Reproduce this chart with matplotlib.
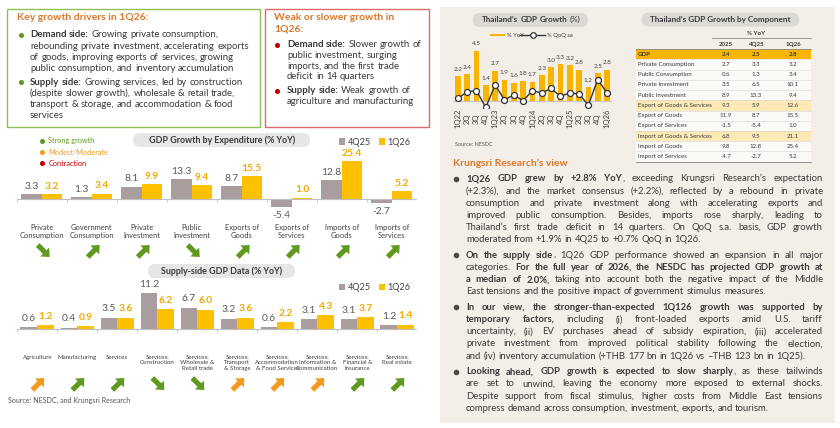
import matplotlib
matplotlib.use('Agg')
import matplotlib.pyplot as plt
from matplotlib.patches import Rectangle, FancyBboxPatch, FancyArrow
from matplotlib.lines import Line2D
import numpy as np

plt.rcParams['font.family'] = ['Lato', 'DejaVu Sans']

W, H = 840, 428

# ---------------- data ----------------
exp_cats = ['Private\nConsumption', 'Government\nConsumption', 'Private\nInvestment', 'Public\nInvestment',
            'Exports of\nGoods', 'Exports of\nServices', 'Imports of\nGoods', 'Imports of\nServices']
exp_4q25 = [3.3, 1.3, 8.1, 13.3, 8.7, -5.4, 12.8, -2.7]
exp_1q26 = [3.2, 3.4, 9.9, 9.4, 15.5, 1.0, 25.4, 5.2]
exp_trend = ['down', 'up', 'up', 'down', 'up', 'up', 'up', 'up']
exp_signal = ['strong', 'strong', 'strong', 'strong', 'strong', 'strong', 'strong', 'strong']

sup_cats = ['Agriculture', 'Manufacturing', 'Services', 'Services:\nConstruction',
            'Services:\nWholesale &\nRetail trade', 'Services:\nTransport\n& Storage',
            'Services:\nAccommodation\n& Food Services', 'Services:\nInformation &\nCommunication',
            'Services:\nFinancial &\nInsurance', 'Services:\nReal estate']
sup_4q25 = [0.6, 0.4, 3.5, 11.2, 6.7, 3.2, 0.6, 3.1, 3.1, 1.2]
sup_1q26 = [1.2, 0.9, 3.6, 6.2, 6.0, 3.6, 2.2, 4.3, 3.7, 1.4]
sup_trend = ['up', 'up', 'up', 'down', 'down', 'up', 'up', 'up', 'up', 'up']
sup_signal = ['moderate', 'strong', 'strong', 'strong', 'strong', 'moderate', 'moderate', 'moderate', 'strong', 'strong']

qtr_labels = ['1Q22', '2Q', '3Q', '4Q', '1Q23', '2Q', '3Q', '4Q', '1Q24', '2Q', '3Q', '4Q',
              '1Q25', '2Q', '3Q', '4Q', '1Q26']
gdp_yoy = [2.2, 2.4, 4.5, 1.4, 2.7, 1.9, 1.6, 1.8, 1.7, 2.3, 3.0, 3.3, 3.2, 2.8, 1.2, 2.5, 2.8]
gdp_qoq = [0.2, 0.8, 0.9, -0.6, 1.4, 0.1, 0.5, 0.0, 0.9, 0.7, 1.1, 0.4, 0.7, 0.6, -0.4, 1.9, 0.7]

comp_names = ['GDP', 'Private Consumption', 'Public Consumption', 'Private Investment', 'Public Investment',
              'Export of Goods & Services', 'Export of Goods', 'Export of Services',
              'Import of Goods & Services', 'Import of Goods', 'Import of Services']
comp_2025 = [2.4, 2.7, 0.6, 3.5, 8.9, 9.3, 11.9, -1.5, 6.8, 9.8, -4.7]
comp_4q25 = [2.5, 3.3, 1.3, 6.5, 13.3, 5.9, 8.7, -5.4, 9.5, 12.8, -2.7]
comp_1q26 = [2.8, 3.2, 3.4, 10.1, 9.4, 12.6, 15.5, 1.0, 21.1, 25.4, 5.2]
comp_cols = ['2025', '4Q25', '1Q26']

drivers_up = [
    ["**Demand side:** Growing private consumption,",
     "rebounding private investment, accelerating exports",
     "of goods, improving exports of services, growing",
     "public consumption, and inventory accumulation"],
    ["**Supply side:** Growing services, led by construction",
     "(despite slower growth), wholesale & retail trade,",
     "transport & storage, and accommodation & food",
     "services"],
]
drivers_down = [
    ["**Demand side:** Slower growth of",
     "public investment, surging",
     "imports, and the first trade",
     "deficit in 14 quarters"],
    ["**Supply side:** Weak growth of",
     "agriculture and manufacturing"],
]
view_text = [
    ["**1Q26 GDP grew by +2.8% YoY**, exceeding Krungsri Research\u2019s expectation",
     "(+2.3%), and the market consensus (+2.2%), reflected by a rebound in private",
     "consumption and private investment along with accelerating exports and",
     "improved public consumption. Besides, imports rose sharply, leading to",
     "Thailand\u2019s first trade deficit in 14 quarters. On QoQ s.a. basis, GDP growth",
     "moderated from +1.9% in 4Q25 to +0.7% QoQ in 1Q26."],
    ["**On the supply side**, 1Q26 GDP performance showed an expansion in all major",
     "categories. **For the full year of 2026, the NESDC has projected GDP growth at**",
     "**a median of 2.0%,** taking into account both the negative impact of the Middle",
     "East tensions and the positive impact of government stimulus measures."],
    ["**In our view, the stronger-than-expected 1Q126 growth was supported by**",
     "**temporary factors,** including (i) front-loaded exports amid U.S. tariff",
     "uncertainty, (ii) EV purchases ahead of subsidy expiration, (iii) accelerated",
     "private investment from improved political stability following the election,",
     "and (iv) inventory accumulation (+THB 177 bn in 1Q26 vs \u2013THB 123 bn in 1Q25)."],
    ["**Looking ahead, GDP growth is expected to slow sharply**, as these tailwinds",
     "are set to unwind, leaving the economy more exposed to external shocks.",
     "Despite support from fiscal stimulus, higher costs from Middle East tensions",
     "compress demand across consumption, investment, exports, and tourism."],
]

# ---------------- colours ----------------
c_grey = '#a99d9e'
c_yel = '#ffc000'
c_yel_txt = '#f2a900'
c_dark = '#3a3a3a'
c_orange_title = '#d9782d'
c_green = '#5f9a1f'
c_amber = '#f39a1e'
c_red = '#c00000'
c_beige = '#f3efe8'
sig_col = {'strong': c_green, 'moderate': c_amber}

fig = plt.figure(figsize=(W / 100, H / 100), dpi=100)
fig.patch.set_facecolor('white')
bg = fig.add_axes([0, 0, 1, 1])
bg.set_xlim(0, W)
bg.set_ylim(H, 0)
bg.axis('off')
renderer = fig.canvas.get_renderer()


def rect_px(x0, y0, x1, y1):
    return [x0 / W, 1 - y1 / H, (x1 - x0) / W, (y1 - y0) / H]


def text_w(s, size, bold):
    t = bg.text(0, 0, s, fontsize=size, fontweight='bold' if bold else 'normal')
    w = t.get_window_extent(renderer).width
    t.remove()
    return w


def rich_line(x, y, s, size, color=c_dark, width=None, ha='left'):
    # y is the visual middle of the line; words may carry **bold** marks
    bold = False
    toks = []
    for w in s.split(' '):
        pcs = []
        for i, p in enumerate(w.split('**')):
            if i > 0:
                bold = not bold
            if p:
                pcs.append((p, bold))
        if pcs:
            toks.append(pcs)
    sp = text_w('a a', size, False) - text_w('aa', size, False)
    widths = [[text_w(p, size, b) for p, b in pcs] for pcs in toks]
    total = sum(sum(w) for w in widths)
    gap = sp
    if width is not None and len(toks) > 1:
        gap = max((width - total) / (len(toks) - 1), sp * 0.6)
    if ha == 'center':
        x = x - (total + gap * (len(toks) - 1)) / 2
    yb = y + 0.26 * size * 100 / 72
    cx = x
    for pcs, ws in zip(toks, widths):
        for (p, b), w in zip(pcs, ws):
            bg.text(cx, yb, p, fontsize=size, fontweight='bold' if b else 'normal',
                    color=color, va='baseline', ha='left')
            cx += w
        cx += gap


def pill(x0, y0, x1, y1, color):
    bg.add_patch(FancyBboxPatch((x0, y0), x1 - x0, y1 - y0,
                                boxstyle='round,pad=0,rounding_size=%f' % ((y1 - y0) / 2),
                                fc=color, ec='none', zorder=1))


def arrow(cx, cy, trend, color):
    dy = -12 if trend == 'up' else 12
    a = FancyArrow(cx - 6, cy - dy / 2, 12, dy, width=5.2, head_width=12.5, head_length=7,
                   length_includes_head=True, fc=color, ec='none', zorder=3)
    bg.add_patch(a)


# ---------------- top-left boxes ----------------
bg.add_patch(Rectangle((7, 9), 253, 118, fc='white', ec='#8fbf55', lw=1.0))
bg.add_patch(Rectangle((265, 9), 164, 118, fc='white', ec='#de6a6a', lw=1.0))

bg.text(17, 17.5, 'Key growth drivers in 1Q26:', fontsize=7.5, fontweight='bold',
        color=c_orange_title, va='center')
y = 35
for blk in drivers_up:
    bg.plot(20.5, y, 'o', ms=2.6, color=c_green)
    for ln in blk:
        rich_line(30, y, ln, 6.9)
        y += 11.3
    y += 1.9

bg.text(274, 17, 'Weak or slower growth in', fontsize=7.5, fontweight='bold', color=c_orange_title, va='center')
bg.text(274, 29, '1Q26:', fontsize=7.5, fontweight='bold', color=c_orange_title, va='center')
y = 45
for blk in drivers_down:
    bg.plot(277, y, 'o', ms=2.6, color=c_red)
    for ln in blk:
        rich_line(287, y, ln, 6.9)
        y += 10.6
    y += 3.4

# ---------------- right beige panel ----------------
bg.add_patch(Rectangle((440, 7), 395, 416, fc=c_beige, ec='none', zorder=0))

# GDP growth chart
pill(473, 13, 588, 27, '#dcd8d4')
rich_line(531, 20, "**Thailand\u2019s GDP Growth** (%)", 5.9, ha='center')

bg.add_patch(Rectangle((490, 33.6), 15, 2.8, fc='#f7b500', ec='none'))
bg.text(507, 35, '% YoY', fontsize=4.2, color=c_dark, va='center')
bg.add_line(Line2D([520, 545], [35, 35], color='#333333', lw=1.0))
bg.plot(532.5, 35, 'o', ms=4, mfc='white', mec='#333333', mew=0.9)
bg.text(547, 35, '% QoQ sa', fontsize=4.2, color=c_dark, va='center')

ax3 = fig.add_axes(rect_px(453.1, 40, 611.7, 108))
ax3.patch.set_alpha(0)
xq = np.arange(len(qtr_labels))
ax3.bar(xq, gdp_yoy, width=0.6, color='#f7b500', zorder=1)
ax3.axhline(0, color='#c8c4bf', lw=0.8, zorder=0)
ax3.plot(xq, gdp_qoq, color='#333333', lw=1.0, marker='o', ms=4.3, mfc='white', mec='#333333',
         mew=0.9, zorder=3)
for i, v in enumerate(gdp_yoy):
    ax3.annotate('%.1f' % v, (i, v), xytext=(0, 5), textcoords='offset points', ha='center',
                 va='center', fontsize=4.6, color='#404040')
ax3.set_xlim(-0.5, len(qtr_labels) - 0.5)
ax3.set_ylim(-(108 - 100.7) / 11.1, (100.7 - 40) / 11.1)
ax3.set_xticks(xq)
ax3.set_xticklabels(qtr_labels, rotation=90, fontsize=5.5, color='#404040', va='center')
ax3.tick_params(axis='x', length=0, pad=7.6)
ax3.set_yticks([])
for s in ax3.spines.values():
    s.set_visible(False)
bg.text(455, 144, 'Source: NESDC', fontsize=4, color='#555555', va='center')

# component table
pill(641.7, 12.5, 799, 26.5, '#dcd8d4')
bg.text(720, 19.5, 'Thailand\u2019s GDP Growth by Component', fontsize=5.9, fontweight='bold',
        color=c_dark, ha='center', va='center')
col_x = [725.7, 755.7, 793]
bg.text(755.7, 33.3, '% YoY', fontsize=4.4, fontweight='bold', color=c_dark, ha='center', va='center')
bg.add_line(Line2D([712, 811], [38, 38], color='#8a8a8a', lw=0.6))
for cx, cname in zip(col_x, comp_cols):
    bg.text(cx, 44.3, cname, fontsize=4.4, fontweight='bold', color=c_dark, ha='center', va='center')
bg.add_line(Line2D([636, 811], [49.2, 49.2], color='#8a8a8a', lw=0.6))
row_h = 10.22
bg.add_patch(Rectangle((636, 49.2), 175, row_h * len(comp_names), fc='#fbfaf7', ec='none'))
for k, name in enumerate(comp_names):
    yc = 54.3 + row_h * k
    if k == 0:
        bg.add_patch(Rectangle((636, yc - row_h / 2), 175, row_h, fc='#f7b500', ec='none'))
    elif 'Goods & Services' in name:
        bg.add_patch(Rectangle((636, yc - row_h / 2), 175, row_h, fc='#fde9b5', ec='none'))
    fw = 'bold' if k == 0 else 'normal'
    bg.text(638, yc, name, fontsize=4.4, fontweight=fw, color=c_dark, va='center')
    for cx, vals in zip(col_x, [comp_2025, comp_4q25, comp_1q26]):
        bg.text(cx, yc, '%.1f' % vals[k], fontsize=4.4, fontweight=fw, color=c_dark, ha='center', va='center')
    bg.add_line(Line2D([636, 811], [yc + row_h / 2] * 2, color='#d6d3cf', lw=0.4))
bg.add_line(Line2D([636, 811], [54.3 + row_h * 10.5] * 2, color='#8a8a8a', lw=0.6))

# Krungsri view text
bg.text(453, 163, 'Krungsri Research\u2019s view', fontsize=7.4, fontweight='bold',
        color=c_orange_title, va='center')
y = 179
for blk in view_text:
    bg.plot(455.5, y, 'o', ms=3, color='#4a4a4a')
    for j, ln in enumerate(blk):
        last = j == len(blk) - 1
        rich_line(466, y, ln, 6.8, width=None if last else 357)
        y += 12.15
    y += 3.5

# ---------------- GDP growth by expenditure ----------------
pill(133, 133, 310, 147, '#e6e6e6')
bg.text(221.7, 140, 'GDP Growth by Expenditure (% YoY)', fontsize=6.4, fontweight='bold',
        color=c_dark, ha='center', va='center')
for yy, lab, col in zip([141, 152.3, 163.3], ['Strong growth', 'Modest/Moderate', 'Contraction'],
                        [c_green, c_amber, c_red]):
    bg.plot(41.7, yy, 'o', ms=2.6, color=col)
    bg.text(48.3, yy, lab, fontsize=5.3, color=col, va='center')

ax1 = fig.add_axes(rect_px(16.7, 150, 416.7, 215))
ax1.patch.set_alpha(0)
xe = np.arange(len(exp_cats))
bw = 0.41
b1 = ax1.bar(xe - bw / 2, exp_4q25, width=bw, color=c_grey)
b2 = ax1.bar(xe + bw / 2, exp_1q26, width=bw, color=c_yel)
ax1.axhline(0, color='#bfbfbf', lw=0.8)
ax1.vlines(np.arange(-0.5, len(exp_cats)), -2.2, 0, color='#bfbfbf', lw=0.6)
for i in range(len(exp_cats)):
    for v, off, col, fw in [(exp_4q25[i], -bw / 2, '#595959', 'normal'), (exp_1q26[i], bw / 2, c_yel_txt, 'bold')]:
        dy = 5.8 if v >= 0 else -6.3
        ax1.annotate('%.1f' % v, (i + off, v), xytext=(0, dy), textcoords='offset points',
                     ha='center', va='center', fontsize=7.4, color=col, fontweight=fw)
ax1.set_xlim(-0.5, len(exp_cats) - 0.5)
ax1.set_ylim(-(215 - 199) / 1.48, (199 - 150) / 1.48)
ax1.set_xticks(xe)
ax1.set_xticklabels(exp_cats, fontsize=5.4, color='#404040', linespacing=1.15)
ax1.tick_params(axis='x', length=0, pad=6.5)
ax1.set_yticks([])
for s in ax1.spines.values():
    s.set_visible(False)
ax1.legend([b1, b2], ['4Q25', '1Q26'], loc='center right', bbox_to_anchor=(419 / W, 1 - 142.3 / H),
           bbox_transform=fig.transFigure, ncol=2, frameon=False, fontsize=6.6, handlelength=0.7,
           handleheight=0.7, handletextpad=0.3, columnspacing=0.8, labelcolor='#404040')
for i in range(len(exp_cats)):
    cx = ax1.transData.transform((i, 0))[0]
    arrow(cx + 2, 251, exp_trend[i], sig_col[exp_signal[i]])

# ---------------- supply side ----------------
pill(148, 264, 295, 278, '#e6e6e6')
bg.text(221.7, 271, 'Supply-side GDP Data (% YoY)', fontsize=6.4, fontweight='bold',
        color=c_dark, ha='center', va='center')

ax2 = fig.add_axes(rect_px(17.3, 285, 417.3, 345))
ax2.patch.set_alpha(0)
xs = np.arange(len(sup_cats))
bw2 = 0.42
c1 = ax2.bar(xs - bw2 / 2, sup_4q25, width=bw2, color=c_grey)
c2 = ax2.bar(xs + bw2 / 2, sup_1q26, width=bw2, color=c_yel)
ax2.axhline(0, color='#bfbfbf', lw=0.8)
ax2.vlines(np.arange(-0.5, len(sup_cats)), -0.7, 0, color='#bfbfbf', lw=0.6)
for i in range(len(sup_cats)):
    for v, off, col, fw in [(sup_4q25[i], -bw2 / 2, '#595959', 'normal'), (sup_1q26[i], bw2 / 2, c_yel_txt, 'bold')]:
        ax2.annotate('%.1f' % v, (i + off, v), xytext=(0, 6.6), textcoords='offset points',
                     ha='center', va='center', fontsize=7.4, color=col, fontweight=fw)
ax2.set_xlim(-0.5, len(sup_cats) - 0.5)
ax2.set_ylim(-(345 - 329.3) / 3.21, (329.3 - 285) / 3.21)
ax2.set_xticks(xs)
ax2.set_xticklabels(sup_cats, fontsize=4.4, color='#404040', linespacing=1.1)
ax2.tick_params(axis='x', length=0, pad=7.2)
ax2.set_yticks([])
for s in ax2.spines.values():
    s.set_visible(False)
ax2.legend([c1, c2], ['4Q25', '1Q26'], loc='center right', bbox_to_anchor=(419 / W, 1 - 287.7 / H),
           bbox_transform=fig.transFigure, ncol=2, frameon=False, fontsize=6.6, handlelength=0.7,
           handleheight=0.7, handletextpad=0.3, columnspacing=0.8, labelcolor='#404040')
for i in range(len(sup_cats)):
    cx = ax2.transData.transform((i, 0))[0]
    arrow(cx + 1, 384, sup_trend[i], sig_col[sup_signal[i]])

bg.text(8.3, 400, 'Source: NESDC, and Krungsri Research', fontsize=5.1, color='#555555', va='center')

fig.savefig('out.png', dpi=100)
